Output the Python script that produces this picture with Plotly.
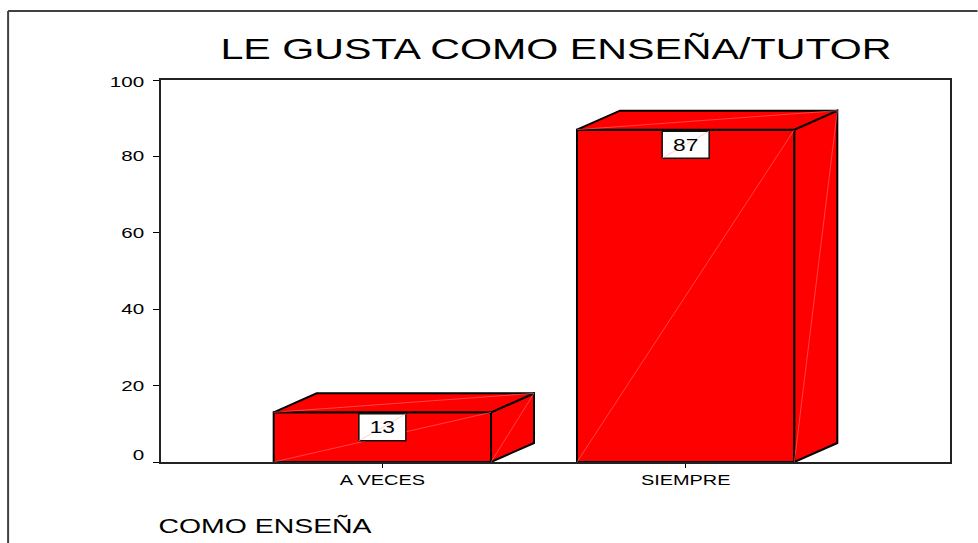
import plotly.graph_objects as go

categories = ["A VECES", "SIEMPRE"]
values = [13, 87]
y_ticks = [0, 20, 40, 60, 80, 100]
title_text = "LE GUSTA COMO ENSEÑA/TUTOR"
axis_title = "COMO ENSEÑA"

W, H = 978, 543
L, R, T, B = 161, 950.5, 80, 462
PX_X = 303.5            # pixels per category step
PX_Y = (B - T) / 100    # pixels per percent
BAR_W = 217.5 / PX_X
DX, DY = 43 / PX_X, 19 / PX_Y
BOX_HW, BOX_HH, BOX_DROP = 23.5 / PX_X, 13.5 / PX_Y, 15 / PX_Y
TEXT_DROP = 17 / PX_Y
X0 = (L - 382.5) / PX_X
X1 = X0 + (R - L) / PX_X
RED, EDGE, GLINT = "#ff0000", "#000000", "#ff7070"

fig = go.Figure()
xs = list(range(len(categories)))
fig.add_bar(x=xs, y=values, width=BAR_W, marker=dict(color=RED, line=dict(color=EDGE, width=2)))


def poly(px, py, fill="rgba(0,0,0,0)", color=EDGE, width=2):
    fig.add_scatter(x=px, y=py, mode="lines", fill="toself", fillcolor=fill,
                    line=dict(color=color, width=width), cliponaxis=False)


def glint(px, py, color=GLINT):
    fig.add_scatter(x=px, y=py, mode="lines", line=dict(color=color, width=0.6), cliponaxis=False)


for xc, v in zip(xs, values):
    a, b = xc - BAR_W / 2, xc + BAR_W / 2
    poly([b, b + DX, b + DX, b, b], [0, DY, v + DY, v, 0], RED)
    poly([a, a + DX, b + DX, b, a], [v, v + DY, v + DY, v, v], RED)
    glint([a, b], [0, v])
    glint([b, b + DX], [0, v + DY])
    glint([a, b + DX], [v, v + DY])

for xc, v in zip(xs, values):
    cy = v - BOX_DROP
    poly([xc - BOX_HW, xc + BOX_HW, xc + BOX_HW, xc - BOX_HW, xc - BOX_HW],
         [cy - BOX_HH, cy - BOX_HH, cy + BOX_HH, cy + BOX_HH, cy - BOX_HH],
         "#ffffff", "#111111", 1.5)
    glint([xc - BOX_HW, xc + BOX_HW], [cy - BOX_HH, cy + BOX_HH], "#ffb0b0")
    fig.add_scatter(x=[xc], y=[v - TEXT_DROP], mode="text", text=[str(v)], textposition="middle center",
                    textfont=dict(family="Liberation Sans", size=16, color="#000000"), cliponaxis=False)

fx = lambda px: (px - L) / (R - L)
fy = lambda py: (B - py) / (B - T)
fig.add_shape(type="line", xref="paper", yref="paper", x0=fx(8), x1=fx(8), y0=fy(H), y1=fy(11),
              line=dict(color="#404040", width=2))
fig.add_shape(type="line", xref="paper", yref="paper", x0=fx(8), x1=fx(W), y0=fy(11), y1=fy(11),
              line=dict(color="#404040", width=2))

fig.add_annotation(xref="paper", yref="paper", x=fx(265.5), y=fy(525), text=axis_title,
                   showarrow=False, xanchor="center", yanchor="middle",
                   font=dict(family="Liberation Sans", size=20, color="#000000"))

fig.update_layout(
    width=W, height=H, margin=dict(l=L, r=W - R, t=T, b=H - B, pad=0),
    paper_bgcolor="white", plot_bgcolor="white", showlegend=False, hovermode=False,
    title=dict(text=title_text, x=556 / W, xanchor="center", y=1 - 49 / H, yanchor="middle",
               font=dict(family="Liberation Sans", size=29, color="#000000")),
    xaxis=dict(range=[X0, X1], tickmode="array", tickvals=xs, ticktext=categories, ticks="outside",
               ticklen=4, tickcolor="#000000", showgrid=False, zeroline=False, showline=True,
               linecolor="#222222", linewidth=1.8, mirror=True,
               tickfont=dict(family="Liberation Sans", size=14, color="#000000")),
    yaxis=dict(range=[0, 100], tickmode="array", tickvals=y_ticks, ticks="outside", ticklen=6,
               tickcolor="#000000", showgrid=False, zeroline=False, showline=True,
               linecolor="#222222", linewidth=1.8, mirror=True, ticklabelstandoff=6,
               tickfont=dict(family="Liberation Sans", size=14.5, color="#000000")),
)

post = """
document.body.style.margin = '0';
document.querySelectorAll('.js-plotly-plot svg text').forEach(function (t) {
  if (!t.textContent) return;
  t.setAttribute('lengthAdjust', 'spacingAndGlyphs');
  t.setAttribute('textLength', t.getComputedTextLength() * 1.42);
});
var shifts = {'0': -7, '100': 2};
document.querySelectorAll('.ytick text').forEach(function (t) {
  if (t.textContent in shifts) t.setAttribute('dy', shifts[t.textContent]);
});
"""
fig.write_html("out.html", config=dict(displayModeBar=False), post_script=post)
